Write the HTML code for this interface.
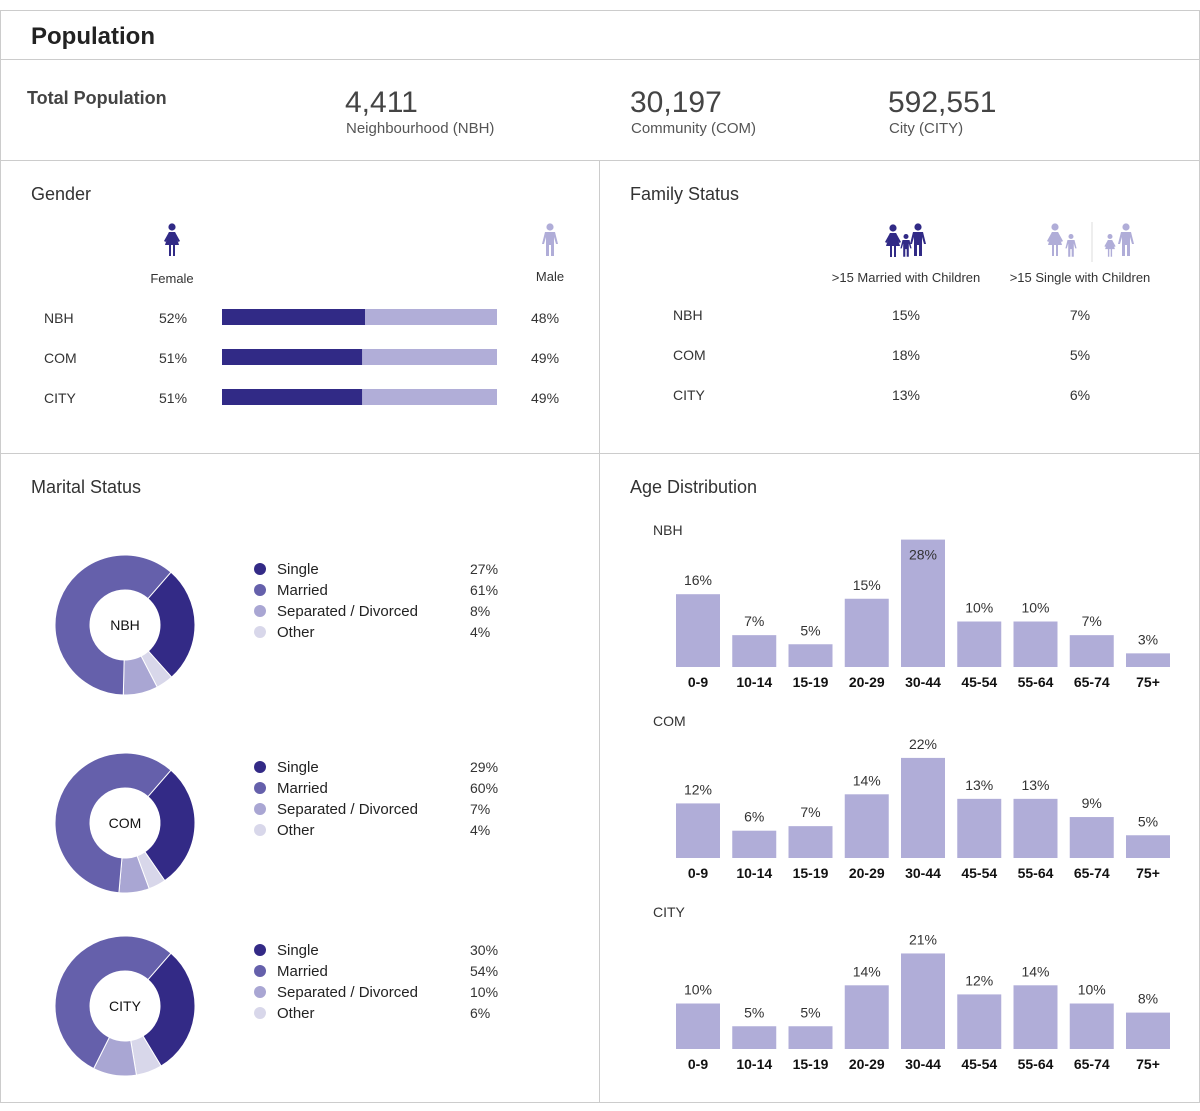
<!DOCTYPE html>
<html><head><meta charset="utf-8"><style>
body{margin:0;background:#fff;font-family:"Liberation Sans",sans-serif;}
svg text{font-family:"Liberation Sans",sans-serif;fill:#333;}
</style></head><body>
<svg id="s" width="1200" height="1106" xmlns="http://www.w3.org/2000/svg">
<defs>
<g id="woman"><circle cx="0" cy="-15" r="3.6"/><path d="M-3,-10 L3,-10 L7,3 L3,3 L3,14 L1,14 L1,3 L-1,3 L-1,14 L-3,14 L-3,3 L-7,3 Z"/><path d="M-3,-10 L-8,-1 L-6.5,0 L-2,-7Z M3,-10 L8,-1 L6.5,0 L2,-7Z"/></g>
<g id="man"><circle cx="0" cy="-15" r="3.6"/><path d="M-5,-10 L5,-10 L8,2 L6,2 L4,-5 L4,14 L1,14 L1,3 L-1,3 L-1,14 L-4,14 L-4,-5 L-6,2 L-8,2 Z"/></g>
</defs>
<g fill="none" stroke="#ccc" stroke-width="1">
<rect x="0.5" y="10.5" width="1199" height="1092"/>
<line x1="0" y1="59.5" x2="1200" y2="59.5"/>
<line x1="0" y1="160.5" x2="1200" y2="160.5"/>
<line x1="0" y1="453.5" x2="1200" y2="453.5"/>
<line x1="599.5" y1="160" x2="599.5" y2="1103"/>
</g>
<text x="31" y="44" font-size="24" font-weight="bold" style="fill:#222">Population</text>
<text x="27" y="104" font-size="18" font-weight="bold" style="fill:#444">Total Population</text>
<g><text x="345" y="112" font-size="30" style="fill:#444">4,411</text><text x="346" y="133" font-size="15" style="fill:#555">Neighbourhood (NBH)</text></g>
<g><text x="630" y="112" font-size="30" style="fill:#444">30,197</text><text x="631" y="133" font-size="15" style="fill:#555">Community (COM)</text></g>
<g><text x="888" y="112" font-size="30" style="fill:#444">592,551</text><text x="889" y="133" font-size="15" style="fill:#555">City (CITY)</text></g>

<text x="31" y="200" font-size="18">Gender</text>
<use href="#woman" x="172" y="242" fill="#312a86"/>
<use href="#man" x="550" y="242" fill="#b0add8"/>
<text x="172" y="283" font-size="13" text-anchor="middle">Female</text>
<text x="550" y="281" font-size="13" text-anchor="middle">Male</text>
<g id="gender"></g>

<text x="630" y="200" font-size="18">Family Status</text>
<g fill="#312a86"><use href="#woman" x="893" y="243"/><use href="#man" x="906" y="247" transform="translate(906 247) scale(0.7) translate(-906 -247)"/><use href="#man" x="918" y="242"/></g>
<g fill="#b0add8"><use href="#woman" x="1055" y="242"/><use href="#man" x="1071" y="247" transform="translate(1071 247) scale(0.7) translate(-1071 -247)"/><line x1="1092" y1="222" x2="1092" y2="262" stroke="#ddd"/><use href="#woman" x="1110" y="247" transform="translate(1110 247) scale(0.7) translate(-1110 -247)"/><use href="#man" x="1126" y="242"/></g>
<text x="906" y="282" font-size="13" text-anchor="middle">&gt;15 Married with Children</text>
<text x="1080" y="282" font-size="13" text-anchor="middle">&gt;15 Single with Children</text>
<g id="family"></g>

<text x="31" y="493" font-size="18">Marital Status</text>
<g id="marital"></g>
<text x="630" y="493" font-size="18">Age Distribution</text>
<g id="age"></g>
</svg>
<script>
const regions = ['NBH','COM','CITY'];
const femalePct = [52,51,51];
const malePct = [48,49,49];
const marriedKids = [15,18,13];
const singleKids = [7,5,6];
const maritalCats = ['Single','Married','Separated / Divorced','Other'];
const maritalNBH = [27,61,8,4];
const maritalCOM = [29,60,7,4];
const maritalCITY = [30,54,10,6];
const ageCats = ['0-9','10-14','15-19','20-29','30-44','45-54','55-64','65-74','75+'];
const ageNBH = [16,7,5,15,28,10,10,7,3];
const ageCOM = [12,6,7,14,22,13,13,9,5];
const ageCITY = [10,5,5,14,21,12,14,10,8];

const NS='http://www.w3.org/2000/svg';
function mk(parent,tag,attrs,txt){const e=document.createElementNS(NS,tag);for(const k in attrs)e.setAttribute(k,attrs[k]);if(txt!==undefined)e.textContent=txt;parent.appendChild(e);return e;}

// Gender
const g=document.getElementById('gender');
const bx=222,bw=275;
regions.forEach((r,i)=>{
  const y=317+i*40;
  const t1=mk(g,'text',{x:44,y:y+6,'font-size':14},r);
  
  
  const t2=mk(g,'text',{x:159,y:y+6,'font-size':14},femalePct[i]+'%');
  
  
  const fw=bw*femalePct[i]/(femalePct[i]+malePct[i]);
  const b1=mk(g,'rect',{x:bx,y:y-8,width:fw,height:16,fill:'#312a86'});
  
  
  const b2=mk(g,'rect',{x:bx+fw,y:y-8,width:bw-fw,height:16,fill:'#b1aed8'});
  
  
  const t3=mk(g,'text',{x:531,y:y+6,'font-size':14},malePct[i]+'%');
  
  
});

// Family
const f=document.getElementById('family');
regions.forEach((r,i)=>{
  const y=320+i*40;
  const a=mk(f,'text',{x:673,y:y,'font-size':14},r);
  
  
  const b=mk(f,'text',{x:906,y:y,'font-size':14,'text-anchor':'middle'},marriedKids[i]+'%');
  
  
  const c=mk(f,'text',{x:1080,y:y,'font-size':14,'text-anchor':'middle'},singleKids[i]+'%');
  
  
});

// Marital donuts
const m=document.getElementById('marital');
const mColors=['#332a86','#6560ab','#a9a6d3','#d8d7ea'];
const drawOrder=[0,3,2,1];
const maritalData=[maritalNBH,maritalCOM,maritalCITY];
const centersY=[625,823,1006];
const legendY=[569,767,950];
function pt(cx,cy,r,a){const rad=(a-90)*Math.PI/180;return [cx+r*Math.cos(rad),cy+r*Math.sin(rad)];}
maritalData.forEach((vals,ri)=>{
  const cx=125,cy=centersY[ri],R=70,r0=35;
  const tot=vals.reduce((a,b)=>a+b,0);
  let ang=41;
  drawOrder.forEach(k=>{
    const sw=vals[k]/tot*360,a2=ang+sw;
    const [x1,y1]=pt(cx,cy,R,ang),[x2,y2]=pt(cx,cy,R,a2),[x3,y3]=pt(cx,cy,r0,a2),[x4,y4]=pt(cx,cy,r0,ang);
    const lg=sw>180?1:0;
    const p=mk(m,'path',{d:`M${x1},${y1} A${R},${R} 0 ${lg} 1 ${x2},${y2} L${x3},${y3} A${r0},${r0} 0 ${lg} 0 ${x4},${y4}Z`,fill:mColors[k],stroke:'#fff','stroke-width':1});
    
    
    ang=a2;
  });
  const lab=mk(m,'text',{x:cx,y:cy+5,'font-size':14,'text-anchor':'middle',style:'fill:#111'},regions[ri]);
  
  
  maritalCats.forEach((c,k)=>{
    const y=legendY[ri]+k*21;
    const d=mk(m,'circle',{cx:260,cy:y,r:6,fill:mColors[k]});
    
    
    const t=mk(m,'text',{x:277,y:y+5,'font-size':15,style:'fill:#222'},c);
    
    
    const v=mk(m,'text',{x:470,y:y+5,'font-size':14},vals[k]+'%');
    
    
  });
});

// Age distribution
const ag=document.getElementById('age');
const ageData=[ageNBH,ageCOM,ageCITY];
const baseY=[667,858,1049];
const titleY=[535,726,917];
const yScale=v=>v*4.55;
const xScale=i=>676+i*56.25;
ageData.forEach((vals,ri)=>{
  const tt=mk(ag,'text',{x:653,y:titleY[ri],'font-size':14},regions[ri]);
  
  
  vals.forEach((v,i)=>{
    const h=yScale(v),x=xScale(i);
    const top=baseY[ri]-h;
    const b=mk(ag,'rect',{x:x,y:top,width:44,height:h,fill:'#b0add8'});
    
    
    const inside=(top-9)<titleY[ri]+10;
    const vl=mk(ag,'text',{x:x+22,y:inside?top+20:top-9,'font-size':14,'text-anchor':'middle'},v+'%');
    
    
    const cl=mk(ag,'text',{x:x+22,y:baseY[ri]+20,'font-size':14,'font-weight':'bold','text-anchor':'middle',style:'fill:#111'},ageCats[i]);
    
    
  });
});
</script>
</body></html>
